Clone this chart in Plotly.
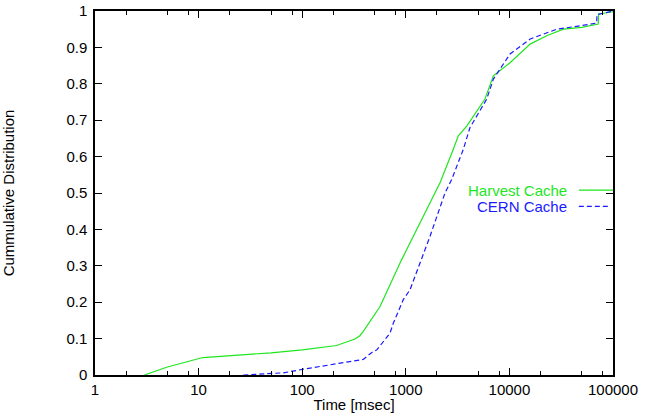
import plotly.graph_objects as go

# Data (time in msec, cumulative fraction)
harvest_x = [3, 5, 11, 20, 30, 50, 100, 185, 215, 323, 360, 389, 564, 912, 1181, 1713, 2140,
             2875, 3213, 3873, 5000, 5808, 7000, 10140, 15860, 22900, 33200, 50000, 72100, 72500, 100000]
harvest_y = [0, 0.022, 0.048, 0.053, 0.057, 0.061, 0.069, 0.078, 0.081, 0.099, 0.108, 0.12, 0.188,
             0.317, 0.381, 0.473, 0.528, 0.62, 0.657, 0.684, 0.73, 0.758, 0.822, 0.858, 0.909, 0.932,
             0.95, 0.955, 0.964, 0.992, 0.998]

cern_x = [27, 66, 103, 185, 389, 470, 525, 704, 757, 946, 1097, 1713, 2390, 2773, 3590, 4167,
          6040, 7000, 10140, 15860, 28600, 50000, 69600, 70000, 100000]
cern_y = [0, 0.006, 0.016, 0.028, 0.043, 0.062, 0.069, 0.115, 0.142, 0.207, 0.234, 0.381, 0.50,
          0.537, 0.62, 0.68, 0.758, 0.813, 0.882, 0.923, 0.95, 0.96, 0.967, 0.99, 1.0]

series_names = ["Harvest Cache", "CERN Cache"]
x_tick_vals = [1, 10, 100, 1000, 10000, 100000]
x_tick_text = ["1", "10", "100", "1000", "10000", "100000"]
x_minor_vals = [m * 10 ** d for d in range(5) for m in (2, 5, 8)]
y_tick_vals = [0, 0.1, 0.2, 0.3, 0.4, 0.5, 0.6, 0.7, 0.8, 0.9, 1]
y_tick_text = ["0", "0.1", "0.2", "0.3", "0.4", "0.5", "0.6", "0.7", "0.8", "0.9", "1"]

GREEN = "#1ee61e"
BLUE = "#1a1aff"
FONT = "Liberation Sans, Arial, sans-serif"
FS = 15

fig = go.Figure()
fig.add_trace(go.Scatter(x=harvest_x, y=harvest_y, mode="lines", name=series_names[0],
                         line=dict(color=GREEN, width=1.2)))
fig.add_trace(go.Scatter(x=cern_x, y=cern_y, mode="lines", name=series_names[1],
                         line=dict(color=BLUE, width=1.2, dash="5px,3px")))

fig.update_layout(
    width=647, height=413,
    margin=dict(l=95, r=34, t=11, b=38, autoexpand=False),
    paper_bgcolor="white", plot_bgcolor="white",
    showlegend=False,
    font=dict(family=FONT, size=FS, color="black"),
)
fig.update_xaxes(
    type="log", range=[0, 5], automargin=False, ticklabeloverflow="allow",
    tickmode="array", tickvals=x_tick_vals, ticktext=x_tick_text,
    ticks="inside", ticklen=7, tickwidth=1, tickcolor="black",
    minor=dict(tickmode="array", tickvals=x_minor_vals, ticks="inside", ticklen=4,
               tickcolor="black", tickwidth=1, showgrid=False),
    showline=True, linecolor="black", linewidth=1.5, mirror="allticks",
    showgrid=False, zeroline=False,
    title=dict(text="Time [msec]", font=dict(size=FS), standoff=0),
)
fig.update_yaxes(
    range=[0, 1], automargin=False, ticklabeloverflow="allow",
    tickmode="array", tickvals=y_tick_vals, ticktext=y_tick_text,
    ticks="inside", ticklen=7, tickwidth=1, tickcolor="black", ticklabelstandoff=3,
    showline=True, linecolor="black", linewidth=1.5, mirror="allticks",
    showgrid=False, zeroline=False,
    title=dict(text="Cummulative Distribution", font=dict(size=FS), standoff=50),
)

# Legend (gnuplot style: text on the left, sample line on the right)
fig.add_annotation(xref="paper", yref="paper", x=0.916, y=0.508, text=series_names[0],
                   showarrow=False, xanchor="right", yanchor="middle",
                   font=dict(color=GREEN, size=FS, family=FONT))
fig.add_annotation(xref="paper", yref="paper", x=0.916, y=0.463, text=series_names[1],
                   showarrow=False, xanchor="right", yanchor="middle",
                   font=dict(color=BLUE, size=FS, family=FONT))
fig.add_shape(type="line", xref="paper", yref="paper", x0=0.934, x1=1.0, y0=0.508, y1=0.508,
              line=dict(color=GREEN, width=1.2))
fig.add_shape(type="line", xref="paper", yref="paper", x0=0.934, x1=0.995, y0=0.463, y1=0.463,
              line=dict(color=BLUE, width=1.2, dash="5px,3px"))

fig.write_html("out.html", config={"displayModeBar": False},
               post_script="document.body.style.margin='0';")
